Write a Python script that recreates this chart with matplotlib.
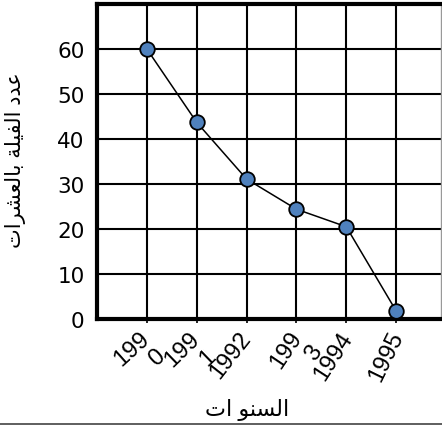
import matplotlib
matplotlib.use('Agg')
from matplotlib import pyplot as plt
from matplotlib.lines import Line2D
from matplotlib.transforms import ScaledTranslation

plt.rcParams['font.family'] = ['Liberation Sans', 'DejaVu Sans']

# years (labels wrap like in the original picture)
years = ['199\n0', '199\n1', '1992', '199\n3', '1994', '1995']
x_pos = [1, 2, 3, 4, 5, 6]
# number of elephants (in tens)
elephants = [60, 43.7, 31.1, 24.4, 20.5, 1.8]

# arabic text written in presentation forms, visual order
ylabel_txt = '\uFE95\uFE8D\uFEAE\uFEB8\uFECC\uFEDF\uFE8E\uFE91 \uFE94\uFEE0\uFEF4\uFED4\uFEDF\uFE8D \uFEA9\uFEAA\uFECB'
xlabel_txt = '\uFE95\uFE8D \uFEEE\uFEE8\uFEB4\uFEDF\uFE8D'

fig = plt.figure(figsize=(4.42, 4.31), dpi=100)
ax = fig.add_axes([97/442, 111/431, 344/442, 315/431])

ax.plot(x_pos, elephants, color='black', linewidth=1.1, marker='o', markersize=10.5,
        markerfacecolor='#4F81BD', markeredgecolor='black', markeredgewidth=1.3, zorder=5)

ax.set_xlim(0, 6.9)
ax.set_ylim(0, 70)
ax.set_yticks([0, 10, 20, 30, 40, 50, 60])
ax.set_yticklabels(['0', '10', '20', '30', '40', '50', '60'], family='DejaVu Sans', fontsize=15.5)
ax.tick_params(axis='y', length=0, pad=9)
ax.tick_params(axis='x', length=3, width=1.2, pad=3)

ax.set_xticks(x_pos)
ax.set_xticklabels(years, ha='right', va='top', fontsize=17,
                   rotation_mode='anchor', linespacing=1.1)
# the labels in the picture are tilted a bit more towards the right
shift = ScaledTranslation(-8/100, 0, fig.dpi_scale_trans)
for lbl, rot in zip(ax.get_xticklabels(), [42, 44, 52, 56, 57, 64]):
    lbl.set_rotation(rot)
    lbl.set_transform(lbl.get_transform() + shift)

ax.grid(True, color='black', linewidth=1.5)
ax.set_axisbelow(True)
for s in ['left', 'top', 'bottom']:
    ax.spines[s].set_linewidth(3)
ax.spines['right'].set_color('#999999')
ax.spines['right'].set_linewidth(1)

fig.text(16/442, 1 - 160/431, ylabel_txt, rotation=90, ha='center', va='center', fontsize=15)
fig.text(247/442, 1 - 410/431, xlabel_txt, ha='center', va='center', fontsize=16)

fig.add_artist(Line2D([0, 1], [1 - 425/431, 1 - 425/431], color='#333333', linewidth=1.1))

fig.savefig('out.png', dpi=100)
